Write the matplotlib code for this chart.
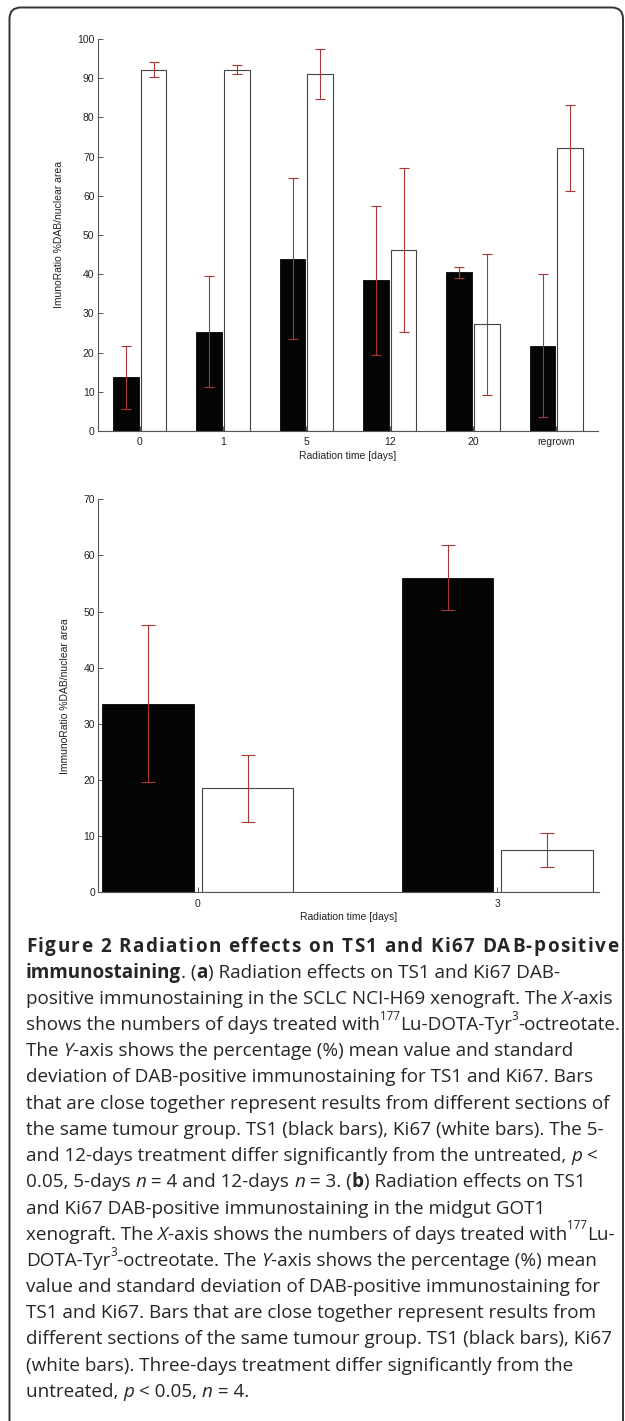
import matplotlib
matplotlib.use('Agg')
import matplotlib.pyplot as plt
from matplotlib.patches import FancyBboxPatch
import numpy as np

# ---------------- data ----------------
categories_a = ['0', '1', '5', '12', '20', 'regrown']
ts1_a = [13.7, 25.3, 44.0, 38.4, 40.5, 21.8]
ts1_a_sd = [8.0, 14.2, 20.6, 19.0, 1.35, 18.2]
ki67_a = [92.2, 92.2, 91.1, 46.2, 27.2, 72.1]
ki67_a_sd = [1.9, 1.1, 6.4, 21.0, 18.0, 11.0]
yticks_a = [0, 10, 20, 30, 40, 50, 60, 70, 80, 90, 100]

categories_b = ['0', '3']
ts1_b = [33.6, 56.0]
ts1_b_sd = [13.95, 5.8]
ki67_b = [18.5, 7.6]
ki67_b_sd = [6.0, 3.05]
yticks_b = [0, 10, 20, 30, 40, 50, 60, 70]

ylabel_a = 'ImunoRatio %DAB/nuclear area'
ylabel_b = 'ImmunoRatio %DAB/nuclear area'
xlabel = 'Radiation time [days]'

W, H = 625, 1421
fig = plt.figure(figsize=(W / 100, H / 100), dpi=100)

AX_FONT = 'Liberation Sans'
SPINE = '#555555'
ERR = '#aa3535'
TFS = 7.5


def panel(rect, cats, ts1, ts1sd, ki, kisd, yticks, ylabel, xlim, capsize, ylab_x):
    ax = fig.add_axes(rect)
    x = np.arange(1, len(cats) + 1)
    off, w = 0.166, 0.305
    ax.bar(x - off, ts1, w, color='#050505', edgecolor='#050505', linewidth=0.6, zorder=2)
    ax.bar(x + off, ki, w, color='white', edgecolor='#444444', linewidth=0.8, zorder=2)
    ax.errorbar(x - off, ts1, yerr=ts1sd, fmt='none', ecolor=ERR, elinewidth=0.8,
                capsize=capsize, capthick=0.8, zorder=3)
    ax.errorbar(x + off, ki, yerr=kisd, fmt='none', ecolor=ERR, elinewidth=0.8,
                capsize=capsize, capthick=0.8, zorder=3)
    ax.set_xlim(*xlim)
    ax.set_ylim(yticks[0], yticks[-1])
    ax.set_yticks(yticks)
    ax.set_xticks(x)
    ax.set_xticklabels(cats)
    for s in ['top', 'right']:
        ax.spines[s].set_visible(False)
    for s in ['left', 'bottom']:
        ax.spines[s].set_color(SPINE)
        ax.spines[s].set_linewidth(0.8)
    ax.tick_params(axis='both', direction='in', length=3.5, width=0.7, color=SPINE,
                   labelsize=TFS, labelcolor='#222222')
    ax.tick_params(axis='y', pad=2.5)
    ax.tick_params(axis='x', pad=4.5)
    for lab in ax.get_xticklabels() + ax.get_yticklabels():
        lab.set_fontfamily(AX_FONT)
    ax.set_xlabel(xlabel, fontsize=TFS, fontfamily=AX_FONT, color='#222222', labelpad=2.5)
    ax.set_ylabel(ylabel, fontsize=TFS, fontfamily=AX_FONT, color='#222222')
    ax.yaxis.set_label_coords(ylab_x, 0.5)
    ax.set_facecolor('none')
    return ax


panel([98 / W, 1 - 431 / H, 500 / W, 392 / H], categories_a, ts1_a, ts1_a_sd, ki67_a, ki67_a_sd,
      yticks_a, ylabel_a, (0.5, 6.5), 3.6, -0.068)
panel([98.4 / W, 1 - 892.3 / H, 500.6 / W, 393 / H], categories_b, ts1_b, ts1_b_sd, ki67_b, ki67_b_sd,
      yticks_b, ylabel_b, (0.668, 2.34), 5.0, -0.057)

# ---------------- frame ----------------
frame = FancyBboxPatch((9.5 / W, -0.05), (623 - 9.5) / W, 1.05 - 7.5 / H,
                       boxstyle='round,pad=0,rounding_size=0.018', transform=fig.transFigure,
                       facecolor='none', edgecolor='#333333', linewidth=1.4,
                       mutation_aspect=W / H)
fig.patches.append(frame)

# ---------------- caption ----------------
CAP_FONT = 'Open Sans'
CAP_COLOR = '#262626'
fig.canvas.draw()
renderer = fig.canvas.get_renderer()


def props(style, size):
    p = dict(fontfamily=CAP_FONT, fontsize=size, color=CAP_COLOR)
    if style == 'b':
        p['fontweight'] = 'bold'
    elif style == 'i':
        p['fontstyle'] = 'italic'
    elif style == 's':
        p['fontsize'] = size * 0.62
    return p


def width(s, style, size):
    pr = props(style, size)
    t1 = fig.text(0, 0, '|' + s + '|', **pr)
    t2 = fig.text(0, 0, '||', **pr)
    w = t1.get_window_extent(renderer).width - t2.get_window_extent(renderer).width
    t1.remove()
    t2.remove()
    return w


base_size = 12.0
target = 608 - 26
ref_w = width('positive immunostaining in the SCLC NCI-H69 xenograft. The ', 'n', base_size) + \
    width('X', 'i', base_size) + width('-axis', 'n', base_size)
SIZE = base_size * target / ref_w

lines = [
    [('immunostaining', 'b'), ('. (', 'n'), ('a', 'b'), (') Radiation effects on TS1 and Ki67 DAB-', 'n')],
    [('positive immunostaining in the SCLC NCI-H69 xenograft. The ', 'n'), ('X', 'i'), ('-axis', 'n')],
    [('shows the numbers of days treated with', 'n'), ('177', 's'), ('Lu-DOTA-Tyr', 'n'), ('3', 's'),
     ('-octreotate.', 'n')],
    [('The ', 'n'), ('Y', 'i'), ('-axis shows the percentage (%) mean value and standard', 'n')],
    [('deviation of DAB-positive immunostaining for TS1 and Ki67. Bars', 'n')],
    [('that are close together represent results from different sections of', 'n')],
    [('the same tumour group. TS1 (black bars), Ki67 (white bars). The 5-', 'n')],
    [('and 12-days treatment differ significantly from the untreated, ', 'n'), ('p', 'i'), (' <', 'n')],
    [('0.05, 5-days ', 'n'), ('n', 'i'), (' = 4 and 12-days ', 'n'), ('n', 'i'), (' = 3. (', 'n'), ('b', 'b'),
     (') Radiation effects on TS1', 'n')],
    [('and Ki67 DAB-positive immunostaining in the midgut GOT1', 'n')],
    [('xenograft. The ', 'n'), ('X', 'i'), ('-axis shows the numbers of days treated with', 'n'), ('177', 's'),
     ('Lu-', 'n')],
    [('DOTA-Tyr', 'n'), ('3', 's'), ('-octreotate. The ', 'n'), ('Y', 'i'),
     ('-axis shows the percentage (%) mean', 'n')],
    [('value and standard deviation of DAB-positive immunostaining for', 'n')],
    [('TS1 and Ki67. Bars that are close together represent results from', 'n')],
    [('different sections of the same tumour group. TS1 (black bars), Ki67', 'n')],
    [('(white bars). Three-days treatment differ significantly from the', 'n')],
    [('untreated, ', 'n'), ('p', 'i'), (' < 0.05, ', 'n'), ('n', 'i'), (' = 4.', 'n')],
]

x0, x1 = 26, 618
base0 = 951.5
step = 26.2

# first line: bold, letter-spaced to fill the measure
title = 'Figure 2 Radiation effects on TS1 and Ki67 DAB-positive'
cw = [width(c, 'b', SIZE) for c in title]
last_w = fig.text(0, 0, title[-1], **props('b', SIZE))
lw_ink = last_w.get_window_extent(renderer).width
last_w.remove()
extra = (x1 - x0 - (sum(cw[:-1]) + lw_ink)) / (len(title) - 1)
xx = x0
for c, w_ in zip(title, cw):
    if c != ' ':
        fig.text(xx / W, 1 - base0 / H, c, va='baseline', ha='left', **props('b', SIZE))
    xx += w_ + extra

for i, segs in enumerate(lines, start=1):
    yb = base0 + step * i
    xx = x0
    for s, st in segs:
        y = yb - (SIZE * 0.55 * 100 / 72 if st == 's' else 0)
        fig.text(xx / W, 1 - y / H, s, va='baseline', ha='left', **props(st, SIZE))
        xx += width(s, st, SIZE)

fig.savefig('out.png', dpi=100)
